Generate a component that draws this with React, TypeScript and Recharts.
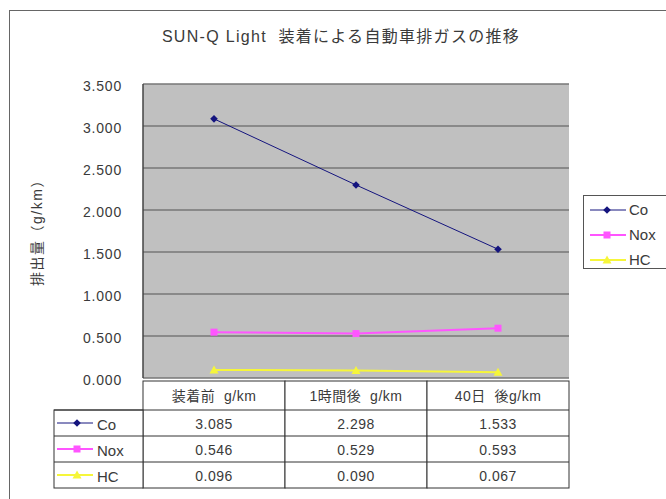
import React from 'react';
import { LineChart, Line, XAxis, YAxis, CartesianGrid, Legend } from 'recharts';

const TITLE = 'SUN-Q Light  装着による自動車排ガスの推移';
const Y_TITLE = '排出量（g/km）';
const categories = ['装着前  g/km', '1時間後  g/km', '40日  後g/km'];
const coValues = [3.085, 2.298, 1.533];
const noxValues = [0.546, 0.529, 0.593];
const hcValues = [0.096, 0.09, 0.067];
const yTicks = [0, 0.5, 1, 1.5, 2, 2.5, 3, 3.5];

const FONT = "'Liberation Sans', 'Noto Sans CJK JP', sans-serif";
const TEXT = '#3a3a3a';

type Shape = 'diamond' | 'square' | 'triangle';
const seriesList: { key: string; values: number[]; color: string; width: number; shape: Shape }[] = [
  { key: 'Co', values: coValues, color: '#14147e', width: 1, shape: 'diamond' },
  { key: 'Nox', values: noxValues, color: '#ff55ff', width: 2, shape: 'square' },
  { key: 'HC', values: hcValues, color: '#f6f63a', width: 2, shape: 'triangle' },
];

const data = categories.map((c, i) => ({
  cat: c,
  Co: coValues[i],
  Nox: noxValues[i],
  HC: hcValues[i],
}));

function marker(shape: Shape, cx: number, cy: number, color: string, k?: any) {
  if (shape === 'diamond')
    return <path key={k} d={`M${cx},${cy - 3.8}L${cx + 3.8},${cy}L${cx},${cy + 3.8}L${cx - 3.8},${cy}Z`} fill={color} />;
  if (shape === 'square')
    return <rect key={k} x={cx - 3.5} y={cy - 3.5} width={7} height={7} fill={color} />;
  return <path key={k} d={`M${cx},${cy - 4.5}L${cx + 4.5},${cy + 3.5}L${cx - 4.5},${cy + 3.5}Z`} fill={color} />;
}

const COL_W = 142;
const KEY_W = 89;
const HEADER_H = 29;
const ROW_H = 26;
const LINE = '#333';

function KeySample({ s, x, y }: { s: (typeof seriesList)[number]; x: number; y: number }) {
  return (
    <g>
      <line x1={x} y1={y} x2={x + 36} y2={y} stroke={s.color} strokeWidth={s.width === 1 ? 1 : 2} />
      {marker(s.shape, x + 20, y, s.color)}
    </g>
  );
}

function TableTick(props: any) {
  const { x, y, payload } = props;
  const i = payload.index;
  const left = x - COL_W / 2;
  const top = y + 3;
  const rowsTop = top + HEADER_H;
  const totalH = HEADER_H + ROW_H * seriesList.length;
  return (
    <g>
      <rect x={left} y={top} width={COL_W} height={totalH} fill="#fff" stroke={LINE} strokeWidth={1} />
      {seriesList.map((s, r) => (
        <line key={'l' + s.key} x1={left} x2={left + COL_W} y1={rowsTop + ROW_H * r} y2={rowsTop + ROW_H * r} stroke={LINE} />
      ))}
      <text
        x={x}
        y={top + HEADER_H / 2}
        textAnchor="middle"
        dominantBaseline="central"
        fontSize={14}
        fill={TEXT}
        fontFamily={FONT}
        letterSpacing={0.5}
        style={{ whiteSpace: 'pre' }}
      >
        {payload.value}
      </text>
      {seriesList.map((s, r) => (
        <text
          key={'v' + s.key}
          x={x}
          y={rowsTop + ROW_H * r + ROW_H / 2 + 1}
          textAnchor="middle"
          dominantBaseline="central"
          fontSize={14}
          fill={TEXT}
          fontFamily={FONT}
          letterSpacing={0.5}
        >
          {s.values[i].toFixed(3)}
        </text>
      ))}
      {i === 0 && (
        <g>
          <rect x={left - KEY_W} y={rowsTop} width={KEY_W} height={ROW_H * seriesList.length} fill="#fff" stroke={LINE} />
          {seriesList.map((s, r) => (
            <g key={'k' + s.key}>
              <line x1={left - KEY_W} x2={left} y1={rowsTop + ROW_H * r} y2={rowsTop + ROW_H * r} stroke={LINE} />
              <KeySample s={s} x={left - KEY_W + 3} y={rowsTop + ROW_H * r + ROW_H / 2} />
              <text
                x={left - KEY_W + 43}
                y={rowsTop + ROW_H * r + ROW_H / 2 + 1}
                dominantBaseline="central"
                fontSize={15}
                fill={TEXT}
                fontFamily={FONT}
              >
                {s.key}
              </text>
            </g>
          ))}
        </g>
      )}
    </g>
  );
}

function LegendBox() {
  return (
    <div
      style={{
        border: '1px solid #555',
        background: '#fff',
        width: 100,
        height: 74,
        boxSizing: 'border-box',
        paddingTop: 1,
        paddingLeft: 6,
      }}
    >
      {seriesList.map((s) => (
        <div key={s.key} style={{ display: 'flex', alignItems: 'center', height: 25 }}>
          <svg width={38} height={12} style={{ display: 'block' }}>
            <line x1={0} y1={6} x2={36} y2={6} stroke={s.color} strokeWidth={s.width === 1 ? 1 : 2} />
            {marker(s.shape, 17, 6, s.color)}
          </svg>
          <span style={{ fontFamily: FONT, fontSize: 15, color: TEXT, marginLeft: 1 }}>{s.key}</span>
        </div>
      ))}
    </div>
  );
}

export default function App() {
  return (
    <div style={{ position: 'absolute', left: 0, top: 0, width: 666, height: 499, overflow: 'hidden', background: '#fff' }}>
      <div
        style={{
          position: 'absolute',
          left: 9,
          top: 10,
          width: 700,
          height: 520,
          border: '1.5px solid #666',
          boxSizing: 'border-box',
        }}
      />
      <div
        style={{
          position: 'absolute',
          left: 8,
          top: 23,
          width: 666,
          textAlign: 'center',
          fontFamily: FONT,
          fontSize: 16,
          letterSpacing: 1.3,
          color: TEXT,
          whiteSpace: 'pre',
        }}
      >
        {TITLE}
      </div>
      <div style={{ position: 'absolute', left: 0, top: 0 }}>
        <LineChart width={666} height={499} data={data} margin={{ top: 84, right: 97, bottom: 11, left: 23 }}>
          <CartesianGrid fill="#c0c0c0" vertical={false} stroke="#777" strokeWidth={1.5} />
          <XAxis
            dataKey="cat"
            type="category"
            height={110}
            padding={{ left: 71, right: 71 }}
            interval={0}
            tickLine={false}
            tickSize={0}
            tickMargin={0}
            axisLine={false}
            tick={<TableTick />}
          />
          <YAxis
            width={120}
            domain={[0, 3.5]}
            ticks={yTicks}
            tickFormatter={(v: number) => v.toFixed(3)}
            tickLine={false}
            tickSize={6}
            tickMargin={15}
            axisLine={{ stroke: '#444', strokeWidth: 1.5 }}
            tick={{ fill: TEXT, fontSize: 14, fontFamily: FONT, dy: 2, letterSpacing: 0.8 }}
            label={{
              content: (p: any) => {
                const vb = p.viewBox;
                const cx = vb.x + 14;
                const cy = vb.y + vb.height / 2 - 2;
                return (
                  <text
                    x={cx}
                    y={cy}
                    transform={`rotate(-90 ${cx} ${cy})`}
                    textAnchor="middle"
                    dominantBaseline="central"
                    fontSize={14}
                    fill={TEXT}
                    fontFamily={FONT}
                    letterSpacing={1.5}
                  >
                    {Y_TITLE}
                  </text>
                );
              },
            }}
          />
          <Legend
            layout="vertical"
            align="center"
            verticalAlign="middle"
            content={() => <LegendBox />}
            wrapperStyle={{ left: 583, top: 195, width: 100 }}
          />
          {seriesList.map((s) => (
            <Line
              key={s.key}
              dataKey={s.key}
              name={s.key}
              stroke={s.color}
              strokeWidth={s.width}
              isAnimationActive={false}
              dot={(p: any) => marker(s.shape, p.cx, p.cy, s.color, p.index)}
              activeDot={false}
            />
          ))}
        </LineChart>
      </div>
    </div>
  );
}
